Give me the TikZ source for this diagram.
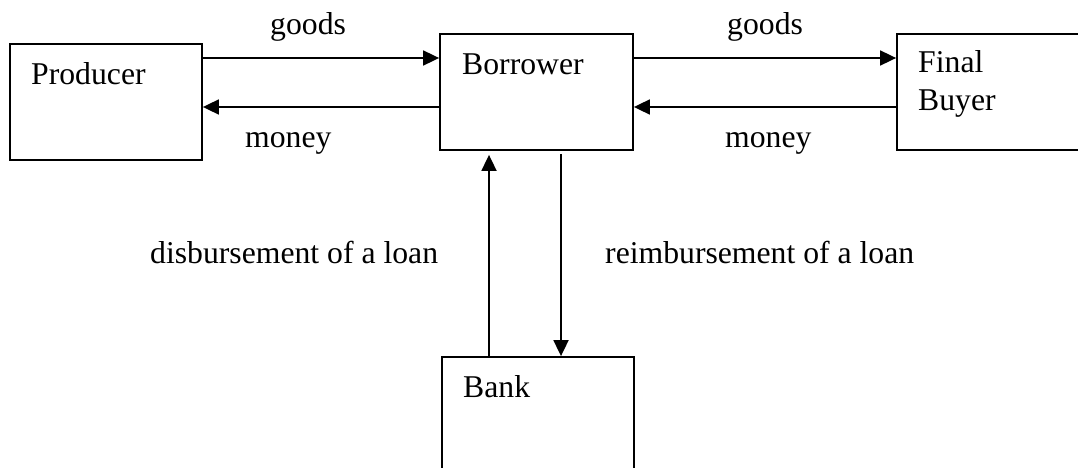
\documentclass[tikz,border=0pt]{standalone}
\usepackage{fontspec}
\setmainfont{Liberation Serif}
\usetikzlibrary{arrows.meta}
\begin{document}
\begin{tikzpicture}[x=1pt,y=-1pt,
  box/.style={draw, line width=1.8pt, inner sep=0pt, rectangle},
  lbl/.style={anchor=base west, inner sep=0pt, font=\fontsize{31.7}{38}\selectfont},
  arr/.style={line width=1.8pt, -{Triangle[length=16pt,width=15pt]}}]
\useasboundingbox (0,0) rectangle (1078,468);

% boxes
\node[box, minimum width=192pt, minimum height=116pt] (producer) at (106,102) {};
\node[box, minimum width=193pt, minimum height=116pt] (borrower) at (536.5,92) {};
\node[box, minimum width=193pt, minimum height=116pt] (buyer) at (993.5,92) {};
\node[box, minimum width=192pt, minimum height=126pt] (bank) at (538,420) {};

% box texts
\node[lbl] (tprod) at (31,85) {Producer};
\node[lbl] (tborr) at (462,75) {Borrower};
\node[lbl] (tfin1) at (918,73) {Final};
\node[lbl] (tfin2) at (918,111) {Buyer};
\node[lbl] (tbank) at (463,397) {Bank};

% arrow rows and columns
\coordinate (rowA) at (0,58);
\coordinate (rowB) at (0,107);
\coordinate (colU) at (489,0);
\coordinate (colD) at (561,0);

\draw[arr] (producer.east |- rowA) -- (borrower.west |- rowA);
\draw[arr] (borrower.west |- rowB) -- (producer.east |- rowB);
\draw[arr] (borrower.east |- rowA) -- (buyer.west |- rowA);
\draw[arr] (buyer.west |- rowB) -- (borrower.east |- rowB);
\draw[arr, shorten >=4pt] (bank.north -| colU) -- (borrower.south -| colU);
\draw[arr, shorten <=3pt] (borrower.south -| colD) -- (bank.north -| colD);

% flow labels
\node[lbl] (g1) at (270,35) {goods};
\node[lbl] (g2) at (727,35) {goods};
\node[lbl] (m1) at (245,147) {money};
\node[lbl] (m2) at (725,147) {money};
\node[lbl] (dis) at (150,263) {disbursement of a loan};
\node[lbl] (rei) at (605,263) {reimbursement of a loan};
\end{tikzpicture}
\end{document}
